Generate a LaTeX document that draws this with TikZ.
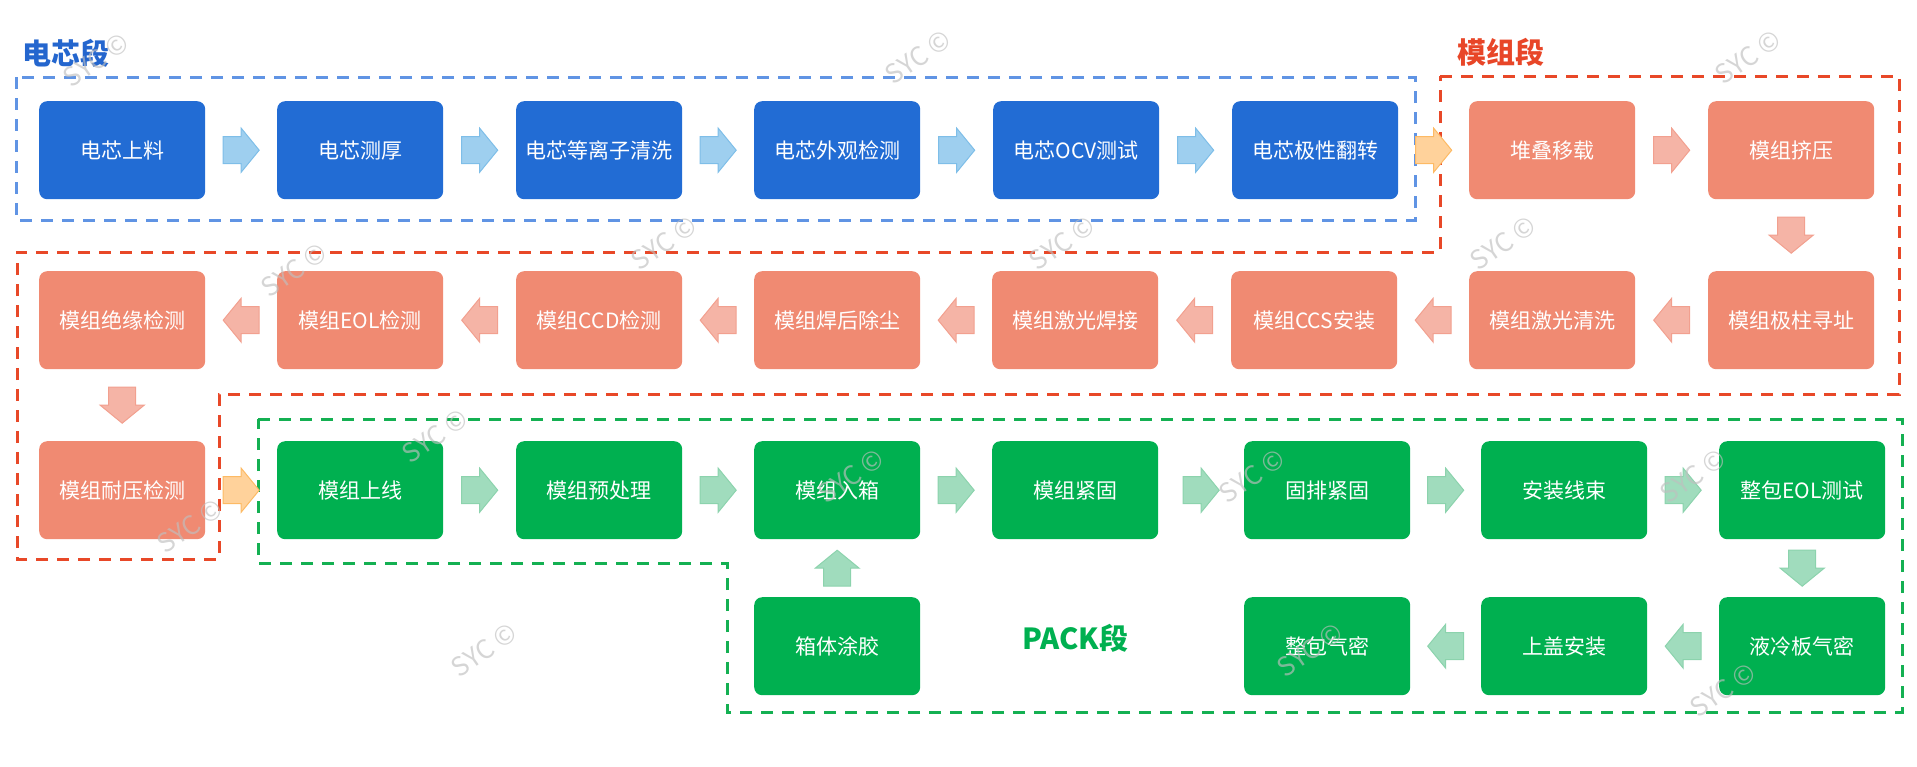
\documentclass[tikz,border=0pt]{standalone}
\usepackage{fontspec}
\setmainfont{Noto Sans CJK SC}
\usetikzlibrary{calc}
\definecolor{cblue}{RGB}{34,108,212}
\definecolor{cred}{RGB}{240,138,114}
\definecolor{cgreen}{RGB}{0,176,80}
\definecolor{tblue}{RGB}{36,102,206}
\definecolor{tred}{RGB}{232,70,40}
\definecolor{dblue}{RGB}{96,148,228}
\definecolor{dred}{RGB}{232,72,40}
\definecolor{dgreen}{RGB}{20,176,82}
\definecolor{ablue}{RGB}{158,207,239}
\definecolor{ablueb}{RGB}{126,190,232}
\definecolor{ared}{RGB}{245,180,166}
\definecolor{aredb}{RGB}{242,160,143}
\definecolor{aorange}{RGB}{255,210,155}
\definecolor{aorangeb}{RGB}{253,186,100}
\definecolor{agreen}{RGB}{160,220,189}
\definecolor{agreenb}{RGB}{140,211,173}
\begin{document}
\begin{tikzpicture}[x=1pt,y=-1pt,
  procbox/.style={rounded corners=8pt, minimum width=166pt, minimum height=98pt,
    inner sep=0pt, text=white, font=\fontsize{21}{25}\selectfont, anchor=north west},
  bluebox/.style={procbox, fill=cblue},
  redbox/.style={procbox, fill=cred},
  greenbox/.style={procbox, fill=cgreen},
  titletext/.style={font=\bfseries\fontsize{29}{32}\selectfont},
  segline/.style={line width=3pt, dash pattern=on 12pt off 9pt},
  barB/.style={fill=ablue, draw=ablueb, line width=1pt},
  barR/.style={fill=ared, draw=aredb, line width=1pt},
  barO/.style={fill=aorange, draw=aorangeb, line width=1pt},
  barG/.style={fill=agreen, draw=agreenb, line width=1pt},
  barrow/.pic={\path[pic actions] (-18,-13.5) -- (0,-13.5) -- (0,-22) -- (18,0) -- (0,22) -- (0,13.5) -- (-18,13.5) -- cycle;},
  wm/.style={text=black!25, text opacity=0.65, font=\fontsize{26}{28}\selectfont, rotate=35}
]
\useasboundingbox (0,0) rectangle (1917,766);

% segment outlines
\draw[segline, dblue] (16,77) rectangle (1415,220);
\draw[segline, dred] (1440,76) -- (1899,76) -- (1899,394) -- (219,394) -- (219,559) -- (17,559) -- (17,252) -- (1440,252) -- cycle;
\draw[segline, dgreen] (258,419) -- (1902,419) -- (1902,712) -- (727,712) -- (727,563) -- (258,563) -- cycle;

% titles
\node[titletext, text=tblue] (t1) at (66,53) {电芯段};
\node[titletext, text=tred] (t2) at (1501,52) {模组段};
\node[titletext, text=cgreen] (t3) at (1075,638) {PACK段};

% row 1
\node[bluebox] (b1) at (39,101) {电芯上料};
\node[bluebox] (b2) at (277,101) {电芯测厚};
\node[bluebox] (b3) at (516,101) {电芯等离子清洗};
\node[bluebox] (b4) at (754,101) {电芯外观检测};
\node[bluebox] (b5) at (993,101) {电芯OCV测试};
\node[bluebox] (b6) at (1232,101) {电芯极性翻转};
\node[redbox] (m1) at (1469,101) {堆叠移载};
\node[redbox] (m2) at (1708,101) {模组挤压};
% row 2
\node[redbox] (m3) at (1708,271) {模组极柱寻址};
\node[redbox] (m4) at (1469,271) {模组激光清洗};
\node[redbox] (m5) at (1231,271) {模组CCS安装};
\node[redbox] (m6) at (992,271) {模组激光焊接};
\node[redbox] (m7) at (754,271) {模组焊后除尘};
\node[redbox] (m8) at (516,271) {模组CCD检测};
\node[redbox] (m9) at (277,271) {模组EOL检测};
\node[redbox] (m10) at (39,271) {模组绝缘检测};
% row 3
\node[redbox] (m11) at (39,441) {模组耐压检测};
\node[greenbox] (p1) at (277,441) {模组上线};
\node[greenbox] (p2) at (516,441) {模组预处理};
\node[greenbox] (p3) at (754,441) {模组入箱};
\node[greenbox] (p4) at (992,441) {模组紧固};
\node[greenbox] (p5) at (1244,441) {固排紧固};
\node[greenbox] (p6) at (1481,441) {安装线束};
\node[greenbox] (p7) at (1719,441) {整包EOL测试};
% row 4
\node[greenbox] (p8) at (1719,597) {液冷板气密};
\node[greenbox] (p9) at (1481,597) {上盖安装};
\node[greenbox] (p10) at (1244,597) {整包气密};
\node[greenbox] (p11) at (754,597) {箱体涂胶};

% arrows row 1
\pic[barB] at ($(b1.east)!0.5!(b2.west)$) {barrow};
\pic[barB] at ($(b2.east)!0.5!(b3.west)$) {barrow};
\pic[barB] at ($(b3.east)!0.5!(b4.west)$) {barrow};
\pic[barB] at ($(b4.east)!0.5!(b5.west)$) {barrow};
\pic[barB] at ($(b5.east)!0.5!(b6.west)$) {barrow};
\pic[barO] at ($(b6.east)!0.5!(m1.west)$) {barrow};
\pic[barR] at ($(m1.east)!0.5!(m2.west)$) {barrow};
\pic[barR, rotate=-90] at ($(m2.south)!0.5!(m3.north)$) {barrow};
% arrows row 2
\pic[barR, rotate=180] at ($(m3.west)!0.5!(m4.east)$) {barrow};
\pic[barR, rotate=180] at ($(m4.west)!0.5!(m5.east)$) {barrow};
\pic[barR, rotate=180] at ($(m5.west)!0.5!(m6.east)$) {barrow};
\pic[barR, rotate=180] at ($(m6.west)!0.5!(m7.east)$) {barrow};
\pic[barR, rotate=180] at ($(m7.west)!0.5!(m8.east)$) {barrow};
\pic[barR, rotate=180] at ($(m8.west)!0.5!(m9.east)$) {barrow};
\pic[barR, rotate=180] at ($(m9.west)!0.5!(m10.east)$) {barrow};
\pic[barR, rotate=-90] at ($(m10.south)!0.5!(m11.north)$) {barrow};
% arrows row 3
\pic[barO] at ($(m11.east)!0.5!(p1.west)$) {barrow};
\pic[barG] at ($(p1.east)!0.5!(p2.west)$) {barrow};
\pic[barG] at ($(p2.east)!0.5!(p3.west)$) {barrow};
\pic[barG] at ($(p3.east)!0.5!(p4.west)$) {barrow};
\pic[barG] at ($(p4.east)!0.5!(p5.west)$) {barrow};
\pic[barG] at ($(p5.east)!0.5!(p6.west)$) {barrow};
\pic[barG] at ($(p6.east)!0.5!(p7.west)$) {barrow};
\pic[barG, rotate=-90] at ($(p7.south)!0.5!(p8.north)$) {barrow};
% arrows row 4
\pic[barG, rotate=180] at ($(p8.west)!0.5!(p9.east)$) {barrow};
\pic[barG, rotate=180] at ($(p9.west)!0.5!(p10.east)$) {barrow};
\pic[barG, rotate=90] at ($(p11.north)!0.5!(p3.south)$) {barrow};

% watermarks
\node[wm] (w1) at (96,60) {SYC ©};
\node[wm] (w2) at (918,57) {SYC ©};
\node[wm] (w3) at (294,270) {SYC ©};
\node[wm] (w4) at (664,243) {SYC ©};
\node[wm] (w5) at (1748,57) {SYC ©};
\node[wm] (w6) at (1062,243) {SYC ©};
\node[wm] (w7) at (1503,243) {SYC ©};
\node[wm] (w8) at (435,436) {SYC ©};
\node[wm] (w9) at (190,526) {SYC ©};
\node[wm] (w10) at (851,476) {SYC ©};
\node[wm] (w11) at (484,650) {SYC ©};
\node[wm] (w12) at (1252,476) {SYC ©};
\node[wm] (w13) at (1693,476) {SYC ©};
\node[wm] (w14) at (1310,650) {SYC ©};
\node[wm] (w15) at (1723,690) {SYC ©};
\end{tikzpicture}
\end{document}
